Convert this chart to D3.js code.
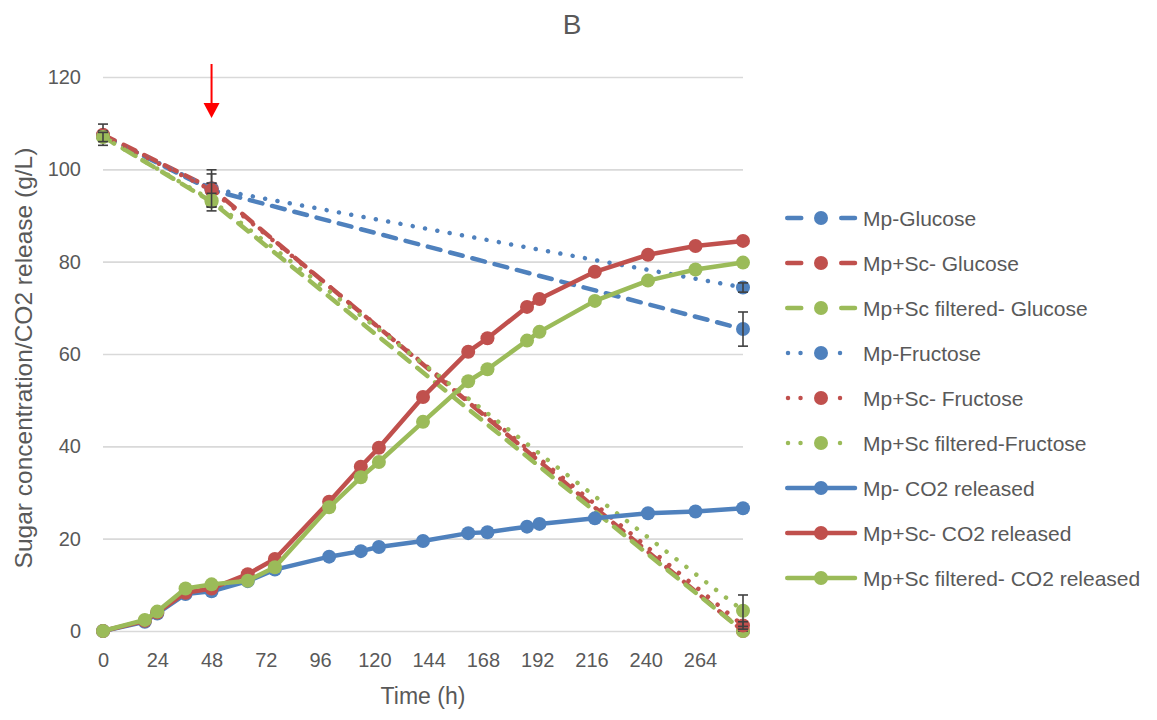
<!DOCTYPE html>
<html>
<head>
<meta charset="utf-8">
<script src="https://cdn.jsdelivr.net/npm/d3@7"></script>
<style>
  html, body { margin: 0; padding: 0; background: #ffffff; }
  svg { display: block; }
  text { font-family: "Liberation Sans", Arial, sans-serif; fill: #595959; }
</style>
</head>
<body>
<svg id="chart" width="1157" height="720"></svg>
<script>
// Sampling times (h)
const sugarHours = [0, 48, 283];
const co2Hours = [0, 18.5, 24, 36.5, 48, 64, 76, 100, 114, 122, 141.5, 161.5, 170, 187.5, 193, 217.5, 241, 262, 283];

// Sugar concentrations (g/L) and their error bars
const mpGlucose        = [107.3, 95.5, 65.4];
const mpScGlucose      = [107.5, 95.9, 0.0];
const mpScFiltGlucose  = [107.1, 93.0, 0.0];
const mpFructose       = [107.2, 95.8, 74.4];
const mpScFructose     = [107.3, 95.5, 1.2];
const mpScFiltFructose = [107.0, 93.3, 4.4];

const mpGlucoseErr        = [1.0, 1.5, 3.7];
const mpScGlucoseErr      = [2.3, 4.0, 0.5];
const mpScFiltGlucoseErr  = [1.0, 2.0, 0.5];
const mpFructoseErr       = [1.0, 1.2, 1.0];
const mpScFructoseErr     = [1.0, 3.5, 0.8];
const mpScFiltFructoseErr = [1.0, 1.5, 3.4];

// Cumulative CO2 released (g/L)
const mpCO2       = [0, 2.0, 3.8, 8.0, 8.6, 10.8, 13.3, 16.1, 17.3, 18.2, 19.5, 21.2, 21.4, 22.6, 23.2, 24.4, 25.5, 25.9, 26.6];
const mpScCO2     = [0, 2.2, 4.0, 8.3, 9.2, 12.3, 15.6, 28.0, 35.6, 39.7, 50.7, 60.5, 63.4, 70.2, 71.9, 77.8, 81.5, 83.4, 84.5];
const mpScFiltCO2 = [0, 2.4, 4.2, 9.2, 10.1, 10.9, 13.8, 26.8, 33.3, 36.6, 45.3, 54.1, 56.7, 62.9, 64.8, 71.5, 75.9, 78.3, 79.8];

// Axis ticks and labels
const xTicks = [0, 24, 48, 72, 96, 120, 144, 168, 192, 216, 240, 264];
const yTicks = [0, 20, 40, 60, 80, 100, 120];
const inoculationHour = 48;

const chartTitle = "B";
const xTitle = "Time (h)";
const yTitle = "Sugar concentration/CO2 release (g/L)";

const BLUE = "#4F81BD", RED = "#C0504D", GREEN = "#9BBB59";

const series = [
  { name: "Mp-Glucose",                   x: sugarHours, y: mpGlucose,        err: mpGlucoseErr,        color: BLUE,  style: "dash" },
  { name: "Mp+Sc- Glucose",               x: sugarHours, y: mpScGlucose,      err: mpScGlucoseErr,      color: RED,   style: "dash" },
  { name: "Mp+Sc filtered- Glucose",      x: sugarHours, y: mpScFiltGlucose,  err: mpScFiltGlucoseErr,  color: GREEN, style: "dash" },
  { name: "Mp-Fructose",                  x: sugarHours, y: mpFructose,       err: mpFructoseErr,       color: BLUE,  style: "dot" },
  { name: "Mp+Sc- Fructose",              x: sugarHours, y: mpScFructose,     err: mpScFructoseErr,     color: RED,   style: "dot" },
  { name: "Mp+Sc filtered-Fructose",      x: sugarHours, y: mpScFiltFructose, err: mpScFiltFructoseErr, color: GREEN, style: "dot" },
  { name: "Mp- CO2 released",             x: co2Hours,   y: mpCO2,            err: null,                color: BLUE,  style: "solid" },
  { name: "Mp+Sc- CO2 released",          x: co2Hours,   y: mpScCO2,          err: null,                color: RED,   style: "solid" },
  { name: "Mp+Sc filtered- CO2 released", x: co2Hours,   y: mpScFiltCO2,      err: null,                color: GREEN, style: "solid" }
];

const plot = { left: 103, right: 743, top: 77, bottom: 631 };
const LINE_W = 4.5, MARKER_R = 7;
const dashFor = { dash: "13,10", dot: "0.01,12.5", solid: null };

const svg = d3.select("#chart");

const x = d3.scaleLinear().domain([0, 283]).range([plot.left, plot.right]);
const y = d3.scaleLinear().domain([0, 120]).range([plot.bottom, plot.top]);

// Horizontal gridlines + y tick labels
const yAxis = svg.append("g")
  .attr("transform", `translate(${plot.left},0)`)
  .call(d3.axisLeft(y).tickValues(yTicks).tickSize(-(plot.right - plot.left)).tickPadding(22));
yAxis.select(".domain").remove();
yAxis.selectAll(".tick line").attr("stroke", "#d9d9d9").attr("stroke-width", 1.6);
yAxis.selectAll(".tick text").attr("font-size", 20).attr("fill", "#595959")
  .attr("font-family", "Liberation Sans, Arial, sans-serif");

// x tick labels
const xAxis = svg.append("g")
  .attr("transform", `translate(0,${plot.bottom})`)
  .call(d3.axisBottom(x).tickValues(xTicks).tickSize(0).tickPadding(22));
xAxis.select(".domain").remove();
xAxis.selectAll(".tick text").attr("font-size", 20).attr("fill", "#595959")
  .attr("font-family", "Liberation Sans, Arial, sans-serif");

// Titles
svg.append("text").attr("x", 572).attr("y", 34).attr("text-anchor", "middle")
  .attr("font-size", 28).text(chartTitle);
svg.append("text").attr("x", (plot.left + plot.right) / 2).attr("y", 704).attr("text-anchor", "middle")
  .attr("font-size", 23).text(xTitle);
svg.append("text").attr("transform", `translate(23,358) rotate(-90)`)
  .attr("text-anchor", "middle").attr("dominant-baseline", "central")
  .attr("font-size", 24.5).text(yTitle);

// Series lines, error bars and markers
const line = d3.line().x(d => x(d[0])).y(d => y(d[1]));
const layer = svg.append("g");
series.forEach(s => {
  const pts = s.x.map((t, i) => [t, s.y[i]]);
  const g = layer.append("g");
  const path = g.append("path").attr("d", line(pts))
    .attr("fill", "none").attr("stroke", s.color).attr("stroke-width", LINE_W)
    .attr("stroke-linecap", "round").attr("stroke-linejoin", "round");
  if (dashFor[s.style]) path.attr("stroke-dasharray", dashFor[s.style]);

  g.selectAll("circle").data(pts).join("circle")
    .attr("cx", d => x(d[0])).attr("cy", d => y(d[1])).attr("r", MARKER_R)
    .attr("fill", s.color);

  if (s.err) {
    const eb = g.append("g").attr("stroke", "#404040").attr("stroke-width", 1.6);
    pts.forEach((d, i) => {
      const cx = x(d[0]), hi = y(d[1] + s.err[i]), lo = y(Math.max(0, d[1] - s.err[i]));
      eb.append("line").attr("x1", cx).attr("x2", cx).attr("y1", hi).attr("y2", lo);
      eb.append("line").attr("x1", cx - 5).attr("x2", cx + 5).attr("y1", hi).attr("y2", hi);
      eb.append("line").attr("x1", cx - 5).attr("x2", cx + 5).attr("y1", lo).attr("y2", lo);
    });
  }
});

// Arrow marking the inoculation time
const ax = x(inoculationHour);
const arrowTop = y(120) - 13, headTop = y(120) + 26, headTip = y(120) + 41;
svg.append("line").attr("x1", ax).attr("x2", ax).attr("y1", arrowTop).attr("y2", headTop + 1)
  .attr("stroke", "#FF0000").attr("stroke-width", 2);
svg.append("path")
  .attr("d", `M${ax - 8},${headTop}L${ax + 8},${headTop}L${ax},${headTip}Z`)
  .attr("fill", "#FF0000");

// Legend
const legend = svg.append("g");
const legendX = 785, legendY = 218, legendStep = 45;
const legendDash = { dash: "14,40", dot: "0.01,12.5,0.01,39.5", solid: null };
series.forEach((s, i) => {
  const ly = legendY + i * legendStep;
  const g = legend.append("g").attr("transform", `translate(0,${ly})`);
  const x1 = s.style === "dot" ? legendX + 3 : legendX + 2.25;
  const x2 = s.style === "dot" ? legendX + 67 : legendX + 70;
  const l = g.append("line").attr("x1", x1).attr("x2", x2).attr("y1", 0).attr("y2", 0)
    .attr("stroke", s.color).attr("stroke-width", LINE_W).attr("stroke-linecap", "round");
  if (legendDash[s.style]) l.attr("stroke-dasharray", legendDash[s.style]);
  g.append("circle").attr("cx", legendX + 36).attr("cy", 0).attr("r", MARKER_R).attr("fill", s.color);
  g.append("text").attr("x", 863).attr("y", 0).attr("dominant-baseline", "central")
    .attr("font-size", 21).text(s.name);
});
</script>
</body>
</html>
